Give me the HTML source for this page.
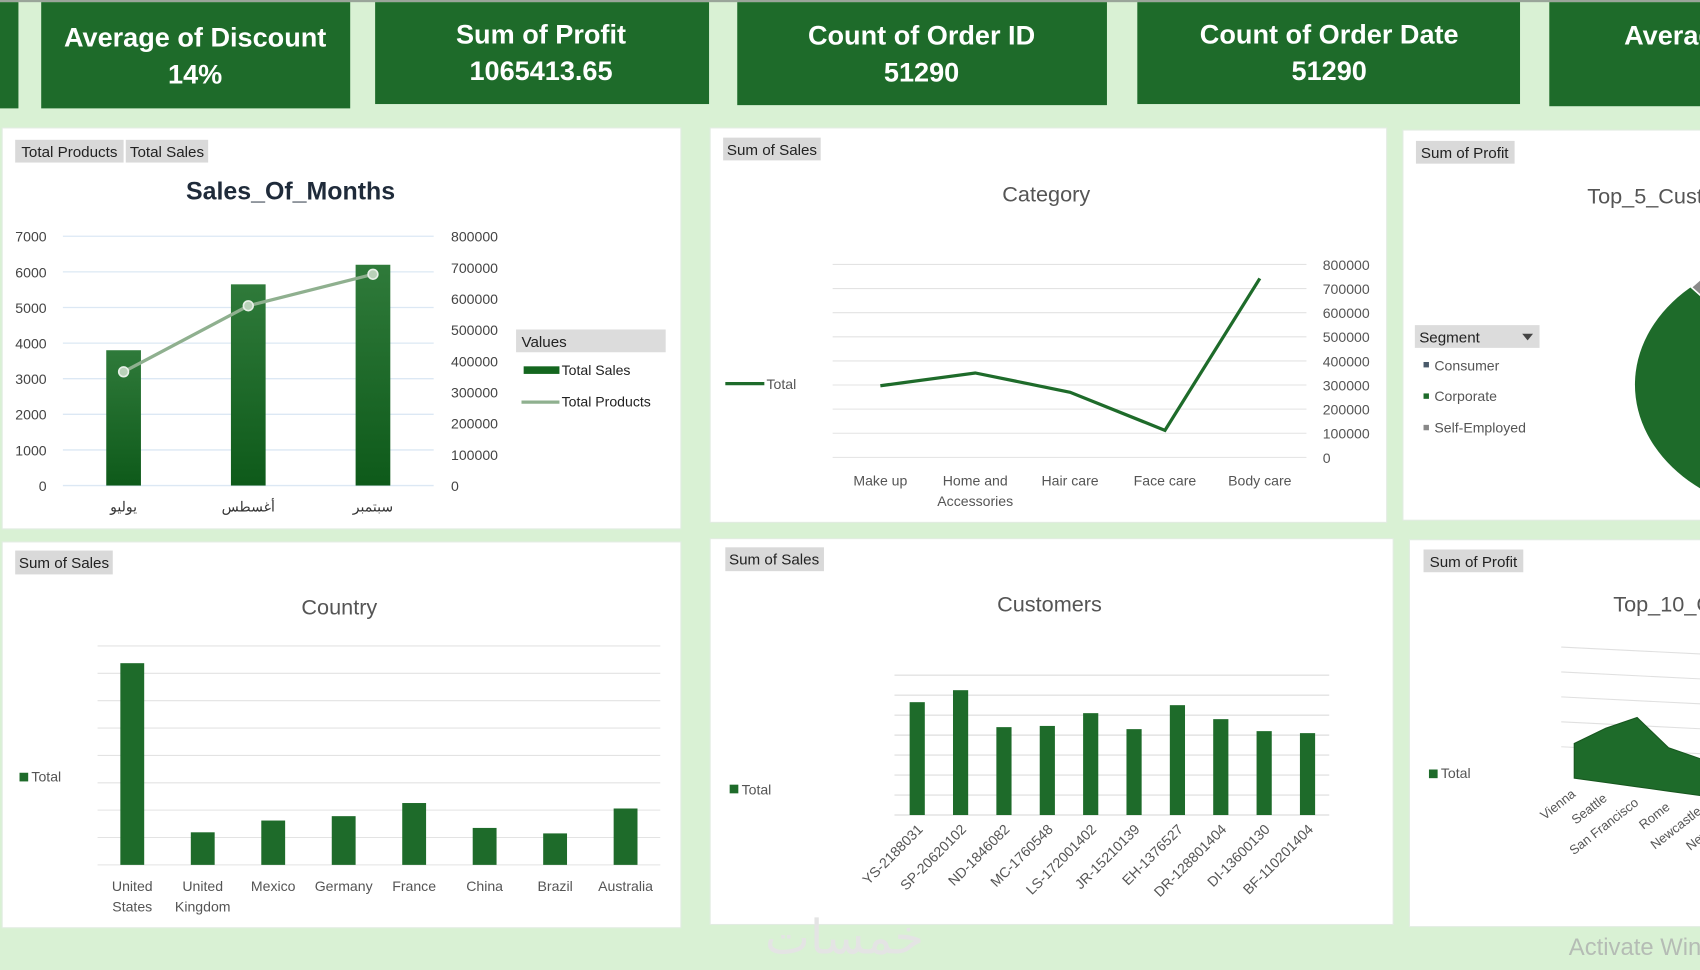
<!DOCTYPE html>
<html><head><meta charset="utf-8">
<style>
html,body{margin:0;padding:0;background:#d9f1d4;overflow:hidden}
svg{display:block}
text{font-family:"Liberation Sans Narrow","Liberation Sans","Noto Sans CJK SC",sans-serif}
</style></head>
<body>
<svg id="dash" width="1700" height="970" viewBox="0 0 1568 895" preserveAspectRatio="none" xmlns="http://www.w3.org/2000/svg">
<defs>
<linearGradient id="barg" x1="0" y1="0" x2="0" y2="1"><stop offset="0" stop-color="#2f7a3a"/><stop offset="1" stop-color="#0e5a1a"/></linearGradient>
<clipPath id="clipRight"><rect x="0" y="0" width="1568" height="895"/></clipPath>
</defs>
<rect x="0" y="0" width="1568" height="895" fill="#d9f1d4"/>
<rect x="0" y="0" width="1568" height="2" fill="#9aa59a"/>
<!-- KPI cards -->
<g font-weight="bold" fill="#fff" text-anchor="middle" font-size="25">
<rect x="-5" y="2" width="22" height="98" fill="#1e6b2a"/>
<g><rect x="38" y="2" width="285" height="98" fill="#1e6b2a"/><text x="180" y="43">Average of Discount</text><text x="180" y="77">14%</text></g>
<g><rect x="346" y="2" width="308" height="94" fill="#1e6b2a"/><text x="499" y="40">Sum of Profit</text><text x="499" y="74">1065413.65</text></g>
<g><rect x="680" y="2" width="341" height="95" fill="#1e6b2a"/><text x="850" y="41">Count of Order ID</text><text x="850" y="75">51290</text></g>
<g><rect x="1049" y="2" width="353" height="94" fill="#1e6b2a"/><text x="1226" y="40">Count of Order Date</text><text x="1226" y="74">51290</text></g>
<g><rect x="1429" y="2" width="150" height="96" fill="#1e6b2a"/><text x="1498" y="41" text-anchor="start">Averag</text></g>
</g>
<!-- Panels -->
<rect x="2" y="118" width="626" height="370" fill="#fff" stroke="#e2ece2"/>
<rect x="655" y="118" width="624" height="364" fill="#fff" stroke="#e2ece2"/>
<rect x="1294" y="120" width="290" height="360" fill="#fff" stroke="#e2ece2"/>
<rect x="2" y="500" width="626" height="356" fill="#fff" stroke="#e2ece2"/>
<rect x="655" y="497" width="630" height="356" fill="#fff" stroke="#e2ece2"/>
<rect x="1300" y="498" width="290" height="357" fill="#fff" stroke="#e2ece2"/>

<!-- Panel A static -->
<g font-size="14" fill="#222">
<rect x="14" y="129" width="100" height="21" fill="#d9d9d9"/><text x="64" y="145" text-anchor="middle">Total Products</text>
<rect x="116" y="129" width="76" height="21" fill="#d9d9d9"/><text x="154" y="145" text-anchor="middle">Total Sales</text>
</g>
<text x="268" y="184" font-size="23" font-weight="bold" fill="#1f2b3a" text-anchor="middle">Sales_Of_Months</text>
<g font-size="13" fill="#222">
<rect x="476" y="304" width="138" height="21" fill="#dcdcdc"/><text x="481" y="320" font-size="14">Values</text>
<rect x="483" y="338" width="33" height="7" fill="#14661f"/><text x="518" y="346">Total Sales</text>
<line x1="481" y1="371" x2="516" y2="371" stroke="#8fb08f" stroke-width="3"/><text x="518" y="375">Total Products</text>
</g>
<g id="salesChart"></g>

<!-- Panel B static -->
<rect x="667" y="127" width="90" height="21" fill="#d9d9d9"/><text x="712" y="143" font-size="14" text-anchor="middle" fill="#222">Sum of Sales</text>
<text x="965" y="186" font-size="20" fill="#555" text-anchor="middle">Category</text>
<g><line x1="669" y1="354" x2="705" y2="354" stroke="#1e6b2a" stroke-width="3"/><text x="707" y="359" font-size="13" fill="#555">Total</text></g>
<g id="catChart"></g>

<!-- Panel C -->
<rect x="1306" y="130" width="91" height="21" fill="#d9d9d9"/><text x="1351" y="146" font-size="14" text-anchor="middle" fill="#222">Sum of Profit</text>
<text x="1464" y="188" font-size="20" fill="#555">Top_5_Customers</text>
<g><rect x="1305" y="300" width="115" height="21" fill="#dcdcdc"/><text x="1309" y="316" font-size="14" fill="#222">Segment</text><path d="M1404 308 L1414 308 L1409 314 Z" fill="#444"/></g>
<g font-size="13" fill="#555">
<rect x="1313" y="334" width="5" height="5" fill="#4a5a6a"/><text x="1323" y="342">Consumer</text>
<rect x="1313" y="363" width="5" height="5" fill="#1e6b2a"/><text x="1323" y="370">Corporate</text>
<rect x="1313" y="392" width="5" height="5" fill="#888"/><text x="1323" y="399">Self-Employed</text>
</g>
<g>
<ellipse cx="1660" cy="355" rx="152" ry="120" fill="#1e6b2a"/>
<path d="M1660 355 L1560 265 L1568 258 Z" fill="#8a8a8a" stroke="#fff" stroke-width="1.5"/>
</g>

<!-- Panel D -->
<rect x="14" y="508" width="90" height="22" fill="#d9d9d9"/><text x="59" y="524" font-size="14" text-anchor="middle" fill="#222">Sum of Sales</text>
<text x="313" y="567" font-size="20" fill="#555" text-anchor="middle">Country</text>
<g><rect x="18" y="713" width="8" height="8" fill="#1e6b2a"/><text x="29" y="721" font-size="13" fill="#555">Total</text></g>
<g id="countryChart"></g>

<!-- Panel E -->
<rect x="669" y="505" width="91" height="22" fill="#d9d9d9"/><text x="714" y="521" font-size="14" text-anchor="middle" fill="#222">Sum of Sales</text>
<text x="968" y="564" font-size="20" fill="#555" text-anchor="middle">Customers</text>
<g><rect x="673" y="724" width="8" height="8" fill="#1e6b2a"/><text x="684" y="733" font-size="13" fill="#555">Total</text></g>
<g id="custChart"></g>

<!-- Panel F -->
<rect x="1313" y="507" width="92" height="21" fill="#d9d9d9"/><text x="1359" y="523" font-size="14" text-anchor="middle" fill="#222">Sum of Profit</text>
<text x="1488" y="564" font-size="20" fill="#555">Top_10_Cities</text>
<g><rect x="1318" y="710" width="8" height="8" fill="#1e6b2a"/><text x="1329" y="718" font-size="13" fill="#555">Total</text></g>
<g id="cityChart"></g>

<text x="779" y="880" font-size="44" fill="#e4e4e4" text-anchor="middle" font-family="'Noto Sans CJK SC',sans-serif">خمسات</text>
<text x="1447" y="881" font-size="22" fill="#b5bcb5">Activate Windows</text>
</svg>
<script>
const NS="http://www.w3.org/2000/svg";
function el(tag,attrs,parent){const e=document.createElementNS(NS,tag);for(const k in attrs)e.setAttribute(k,attrs[k]);parent.appendChild(e);return e;}

// ---- Sales of months data
const monthLabels=["يوليو","أغسطس","سبتمبر"];
const monthSales=[3800,5650,6200];
const monthProducts=[365000,577000,678000];
const leftTicks=[0,1000,2000,3000,4000,5000,6000,7000];
const rightTicks=[0,100000,200000,300000,400000,500000,600000,700000,800000];

// ---- Category data
const categories=["Make up","Home and|Accessories","Hair care","Face care","Body care"];
const categorySales=[297000,350000,270000,112000,742000];
const categoryTicks=[0,100000,200000,300000,400000,500000,600000,700000,800000];

// ---- Country data
const countries=["United|States","United|Kingdom","Mexico","Germany","France","China","Brazil","Australia"];
const countrySales=[737,119,162,178,226,135,115,206];
const countryGridMax=800;

// ---- Customers data
const customers=["YS-2188031","SP-20620102","ND-1846082","MC-1760548","LS-172001402","JR-15210139","EH-1376527","DR-128801404","DI-13600130","BF-110201404"];
const customerSales=[565,625,440,446,510,430,550,480,420,410];
const customerGridMax=700;

// ---- Top cities data
const cities=["Vienna","Seattle","San Francisco","Rome","Newcastle","New York"];
const cityProfit=[32,50,64,40,34,30];

// Sales chart
(function(){
 const g=document.getElementById('salesChart');
 const yL=v=>448-v/7000*230, yR=v=>448-v/800000*230, x=i=>114+i*115;
 leftTicks.forEach(t=>{
  const l=el('line',{x1:58,x2:400,y1:yL(t),y2:yL(t),stroke:'#dce8f4','stroke-width':1.2},g);
  
  
  const tx=el('text',{x:43,y:yL(t)+5,'text-anchor':'end','font-size':13,fill:'#444'},g);tx.textContent=t;
  
  
 });
 rightTicks.forEach(t=>{
  const tx=el('text',{x:416,y:yR(t)+5,'font-size':13,fill:'#444'},g);tx.textContent=t;
  
  
 });
 monthSales.forEach((v,i)=>{
  const b=el('rect',{x:x(i)-16,y:yL(v),width:32,height:448-yL(v),fill:'url(#barg)'},g);
  
  
  const tx=el('text',{x:x(i),y:472,'text-anchor':'middle','font-size':13,fill:'#333'},g);tx.textContent=monthLabels[i];
  
  
 });
 const pts=monthProducts.map((v,i)=>x(i)+','+yR(v)).join(' ');
 const pl=el('polyline',{points:pts,fill:'none',stroke:'#8fb08f','stroke-width':3},g);
 
 
 monthProducts.forEach((v,i)=>{
  const c=el('circle',{cx:x(i),cy:yR(v),r:4.5,fill:'#b9d1b9',stroke:'#e8f0e8','stroke-width':1.5},g);
  
  
 });
})();

// Category chart
(function(){
 const g=document.getElementById('catChart');
 const y=v=>422-v/800000*178, x=i=>812+i*87.5;
 categoryTicks.forEach(t=>{
  const l=el('line',{x1:768,x2:1205,y1:y(t),y2:y(t),stroke:'#e3e3e3'},g);
  
  
  const tx=el('text',{x:1220,y:y(t)+5,'font-size':13,fill:'#555'},g);tx.textContent=t;
  
  
 });
 const pl=el('polyline',{points:categorySales.map((v,i)=>x(i)+','+y(v)).join(' '),fill:'none',stroke:'#1e6b2a','stroke-width':3},g);
 
 
 categories.forEach((c,i)=>{
  c.split('|').forEach((s,j)=>{
   const tx=el('text',{x:x(i),y:448+j*19,'text-anchor':'middle','font-size':13,fill:'#555'},g);tx.textContent=s;
   
   
  });
 });
})();

// Country chart
(function(){
 const g=document.getElementById('countryChart');
 const y=v=>798-v/countryGridMax*202, x=i=>122+i*65;
 for(let k=0;k<=8;k++){
  const l=el('line',{x1:90,x2:609,y1:y(k*100),y2:y(k*100),stroke:'#e3e3e3'},g);
  
  
 }
 countrySales.forEach((v,i)=>{
  const b=el('rect',{x:x(i)-11,y:y(v),width:22,height:798-y(v),fill:'#1e6b2a'},g);
  
  
  countries[i].split('|').forEach((s,j)=>{
   const tx=el('text',{x:x(i),y:822+j*19,'text-anchor':'middle','font-size':13,fill:'#555'},g);tx.textContent=s;
   
   
  });
 });
})();

// Customers chart
(function(){
 const g=document.getElementById('custChart');
 const y=v=>752-v/customerGridMax*129, x=i=>846+i*40;
 for(let k=0;k<=7;k++){
  const l=el('line',{x1:825,x2:1226,y1:y(k*100),y2:y(k*100),stroke:'#e3e3e3','stroke-width':1.3},g);
  
  
 }
 customerSales.forEach((v,i)=>{
  const b=el('rect',{x:x(i)-7,y:y(v),width:14,height:752-y(v),fill:'#1e6b2a'},g);
  
  
  const tx=el('text',{x:x(i)+6,y:766,'text-anchor':'end','font-size':13,fill:'#555',transform:`rotate(-45 ${x(i)+6} 766)`},g);tx.textContent=customers[i];
  
  
 });
})();

// Top 10 cities 3D area
(function(){
 const g=document.getElementById('cityChart');
 g.setAttribute('clip-path','url(#clipRight)');
 const x=i=>1452+i*29, base=i=>718+i*4, y=(v,i)=>base(i)-v;
 [0,1,2,3,4].forEach(k=>{
  const l=el('line',{x1:1440,y1:597+k*23,x2:1580,y2:604+k*23,stroke:'#e0e0e0'},g);
  
  
 });
 let top=cityProfit.map((v,i)=>x(i)+','+y(v,i));
 let bot=cityProfit.map((v,i)=>x(i)+','+base(i)).reverse();
 const p=el('polygon',{points:top.concat(bot).join(' '),fill:'#1e6b2a',stroke:'#17571f'},g);
 
 
 cities.forEach((c,i)=>{
  const tx=el('text',{x:x(i)+2,y:base(i)+16,'text-anchor':'end','font-size':12,fill:'#555',transform:`rotate(-38 ${x(i)+2} ${base(i)+16})`},g);tx.textContent=c;
  
  
 });
})();
</script>
</body></html>
